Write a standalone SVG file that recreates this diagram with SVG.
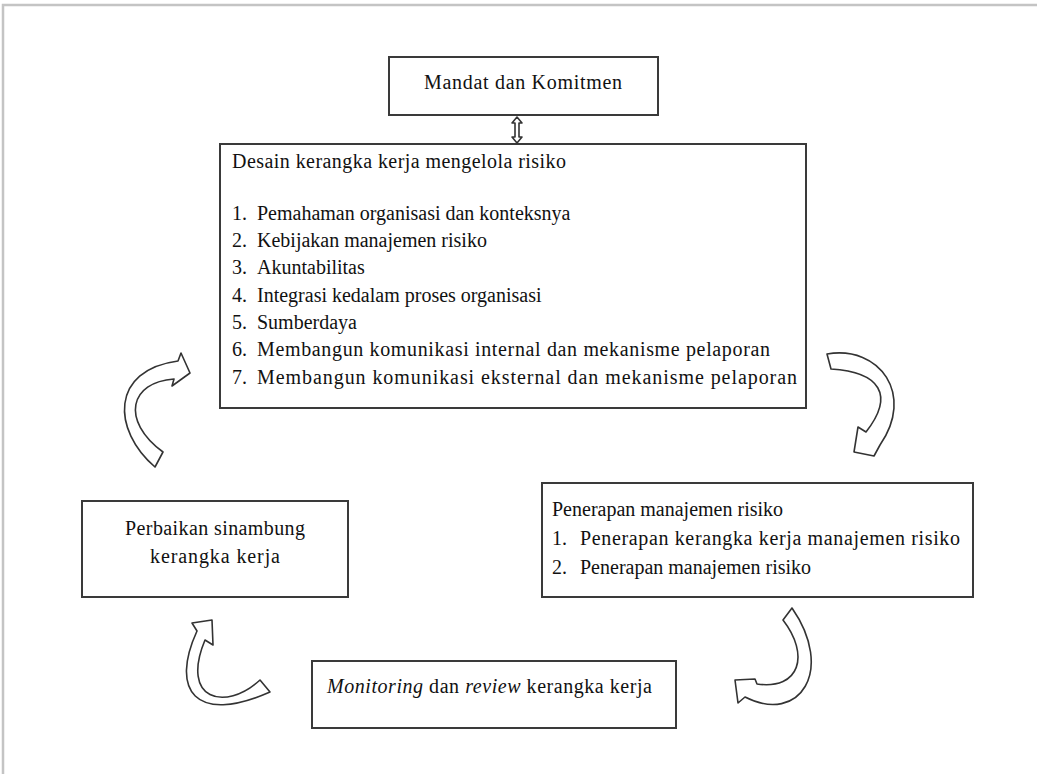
<svg xmlns="http://www.w3.org/2000/svg" width="1037" height="774" viewBox="0 0 1037 774">
<style>
.frame{fill:none;stroke:#c4c4c4;stroke-width:2.5}
.box{fill:#fff;stroke:#3a3a3a;stroke-width:2}
.arr{fill:#fff;stroke:#333;stroke-width:1.6;stroke-linejoin:round}
.t{font-family:'Liberation Serif','DejaVu Serif',serif;font-size:20px;fill:#111}
.it{font-style:italic}
</style>
<polyline class="frame" points="3,774 3,5 1037,5"/>
<g id="mandat">
<rect class="box" x="389" y="57" width="269" height="58"/>
<text class="t" x="424" y="89" textLength="198">Mandat dan Komitmen</text>
</g>
<g id="desain">
<rect class="box" x="220" y="144" width="586" height="264"/>
<text class="t" x="232" y="168" textLength="334">Desain kerangka kerja mengelola risiko</text>
<text class="t" x="232" y="220">1.</text><text class="t" x="257" y="220">Pemahaman organisasi dan konteksnya</text>
<text class="t" x="232" y="247">2.</text><text class="t" x="257" y="247">Kebijakan manajemen risiko</text>
<text class="t" x="232" y="274">3.</text><text class="t" x="257" y="274">Akuntabilitas</text>
<text class="t" x="232" y="302">4.</text><text class="t" x="257" y="302">Integrasi kedalam proses organisasi</text>
<text class="t" x="232" y="329">5.</text><text class="t" x="257" y="329">Sumberdaya</text>
<text class="t" x="232" y="356">6.</text><text class="t" x="257" y="356" textLength="513">Membangun komunikasi internal dan mekanisme pelaporan</text>
<text class="t" x="232" y="384">7.</text><text class="t" x="257" y="384" textLength="540">Membangun komunikasi eksternal dan mekanisme pelaporan</text>
</g>
<g id="penerapan">
<rect class="box" x="542" y="483" width="431" height="114"/>
<text class="t" x="552" y="516">Penerapan manajemen risiko</text>
<text class="t" x="552" y="545">1.</text><text class="t" x="580" y="545" textLength="380">Penerapan kerangka kerja manajemen risiko</text>
<text class="t" x="552" y="574">2.</text><text class="t" x="580" y="574">Penerapan manajemen risiko</text>
</g>
<g id="perbaikan">
<rect class="box" x="82" y="501" width="266" height="96"/>
<text class="t" x="125" y="535" textLength="180">Perbaikan sinambung</text>
<text class="t" x="150" y="563" textLength="130">kerangka kerja</text>
</g>
<g id="monitoring">
<rect class="box" x="312" y="661" width="364" height="67"/>
<text class="t" x="327" y="693" textLength="325"><tspan class="it">Monitoring</tspan> dan <tspan class="it">review</tspan> kerangka kerja</text>
</g>
<g id="connectors">
<path class="arr" d="M517 117 L522 123 L519 123 L519 137 L522 137 L517 143 L512 137 L515 137 L515 123 L512 123 Z"/>
<path class="arr" d="M155 467 C112 430 110 370 178 361 L181 353 L190 373 L172 386 L174 379 C130 382 120 420 163 452 Z"/>
<path class="arr" d="M827 354 C880 345 915 395 880 445 L874 456 L854 452 L858 427 L866 432 C895 395 880 372 831 369 Z"/>
<path class="arr" d="M260 680 C225 712 180 700 205 640 L213 645 L212 620 L192 623 L197 631 C170 690 195 725 270 692 Z"/>
<path class="arr" d="M783 620 C810 655 800 690 757 684 L755 679 L735 680 L738 703 L745 697 C800 725 835 670 792 608 Z"/>
</g>
</svg>
